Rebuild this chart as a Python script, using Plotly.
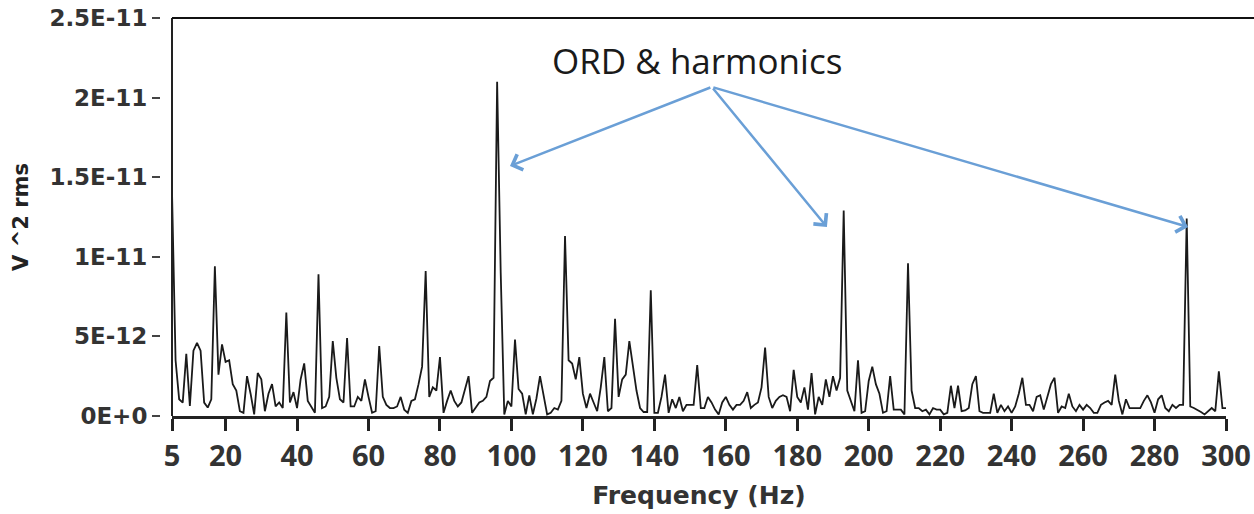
import plotly.graph_objects as go

# Frequency bins (Hz)
freq_hz = list(range(5, 301))

# Power values, in units of 1E-12 V^2 rms, one per frequency bin
power_e12 = [
    14.1, 3.5, 1.05, 0.84, 3.9, 0.63, 4.1, 4.6, 4.1, 0.84,        # 5-14
    0.53, 1.05, 9.4, 2.6, 4.5, 3.4, 3.5, 2.0, 1.6, 0.3,           # 15-24
    0.2, 2.5, 1.4, 0.1, 2.7, 2.3, 0.3, 1.4, 2.0, 0.6,             # 25-34
    0.85, 0.5, 6.5, 0.85, 1.5, 0.5, 2.3, 3.3, 0.95, 0.6,          # 35-44
    0.2, 8.9, 0.5, 0.6, 1.2, 4.7, 2.4, 1.05, 0.85, 4.9,           # 45-54
    0.6, 0.6, 1.2, 0.95, 2.3, 1.2, 0.2, 0.3, 4.4, 1.2,            # 55-64
    0.7, 0.5, 0.5, 0.6, 1.2, 0.4, 0.2, 0.95, 1.05, 2.0,           # 65-74
    3.1, 9.1, 1.2, 1.8, 1.6, 3.7, 0.2, 0.95, 1.6, 0.95,           # 75-84
    0.6, 0.85, 1.6, 2.5, 0.2, 0.5, 0.85, 0.95, 1.2, 2.2,          # 85-94
    2.4, 21.0, 9.0, 0.1, 0.95, 0.6, 4.8, 1.7, 1.4, 0.1,           # 95-104
    1.3, 0.1, 1.1, 2.5, 1.2, 0.1, 0.2, 0.5, 0.4, 0.95,            # 105-114
    11.3, 3.5, 3.3, 2.3, 3.7, 1.4, 0.5, 1.4, 0.85, 0.3,           # 115-124
    1.8, 3.7, 0.3, 0.5, 6.1, 1.2, 2.3, 2.6, 4.7, 3.1,             # 125-134
    1.6, 0.5, 0.25, 0.25, 7.9, 0.2, 0.2, 1.2, 2.6, 0.2,           # 135-144
    1.05, 0.5, 1.2, 0.3, 0.7, 0.7, 0.7, 3.2, 0.5, 0.5,            # 145-154
    1.2, 0.85, 0.4, 0.1, 0.85, 1.2, 0.7, 0.4, 0.7, 0.7,           # 155-164
    0.95, 1.5, 0.5, 0.7, 0.85, 1.8, 4.3, 1.2, 0.5, 0.95,          # 165-174
    1.2, 1.3, 1.2, 0.3, 2.9, 1.2, 0.85, 1.8, 0.4, 2.7,            # 175-184
    0.1, 1.2, 0.7, 2.3, 1.2, 2.5, 1.6, 2.4, 12.9, 1.6,            # 185-194
    0.95, 0.3, 3.5, 0.2, 0.3, 2.2, 3.1, 2.0, 1.4, 0.2,            # 195-204
    0.3, 2.5, 0.4, 0.4, 0.4, 0.1, 9.6, 1.6, 0.5, 0.5,             # 205-214
    0.3, 0.4, 0.1, 0.5, 0.4, 0.4, 0.1, 0.2, 1.9, 0.5,             # 215-224
    1.9, 0.3, 0.35, 0.5, 2.0, 2.5, 0.3, 0.2, 0.2, 0.2,            # 225-234
    1.4, 0.2, 0.7, 0.3, 0.6, 0.2, 0.6, 1.4, 2.4, 0.7,             # 235-244
    0.7, 0.3, 1.2, 1.3, 0.4, 1.2, 2.0, 2.4, 0.2, 0.6,             # 245-254
    0.5, 1.4, 0.6, 0.3, 0.7, 0.4, 0.7, 0.5, 0.2, 0.2,             # 255-264
    0.7, 0.85, 0.95, 0.7, 2.6, 0.95, 0.1, 1.05, 0.5, 0.5,         # 265-274
    0.5, 0.5, 0.95, 1.3, 0.85, 0.2, 1.05, 1.3, 0.5, 0.3,          # 275-284
    0.7, 0.5, 0.7, 0.7, 12.4, 0.6, 0.5, 0.4, 0.25, 0.1,           # 285-294
    0.3, 0.5, 0.3, 2.8, 0.5, 0.5,                                 # 295-300
]
power = [v * 1e-12 for v in power_e12]

x_ticks = [5, 20, 40, 60, 80, 100, 120, 140, 160, 180, 200, 220, 240, 260, 280, 300]
y_ticks = [0, 5e-12, 1e-11, 1.5e-11, 2e-11, 2.5e-11]
y_tick_labels = ["0E+0", "5E-12", "1E-11", "1.5E-11", "2E-11", "2.5E-11"]

annotation_text = "ORD & harmonics"
annotation_anchor = (151.9, 2.236e-11)
arrow_tail = (156.1, 2.067e-11)
arrow_heads = [(99.6, 1.57e-11), (188.3, 1.187e-11), (289.4, 1.187e-11)]

W, H = 1254, 514
ML, MR, MT, MB = 160, 28, 18, 98
plot_w = W - ML - MR
dom0 = 12 / plot_w

fig = go.Figure()
fig.add_trace(go.Scatter(
    x=freq_hz, y=power, mode="lines",
    line=dict(color="#1a1a1a", width=1.8),
    showlegend=False, hoverinfo="x+y", cliponaxis=False,
))

TXT = "#333333"
fig.update_layout(
    width=W, height=H,
    margin=dict(l=ML, r=MR, t=MT, b=MB, autoexpand=False),
    paper_bgcolor="white", plot_bgcolor="white",
    xaxis=dict(
        domain=[dom0, 1], range=[5, 300], automargin=False,
        tickmode="array", tickvals=x_ticks, ticktext=[str(t) for t in x_ticks],
        ticks="outside", ticklen=12, tickwidth=3, tickcolor="#222222",
        showline=True, linecolor="#222222", linewidth=2.5,
        showgrid=False, zeroline=False, ticklabeloverflow="allow",
        tickfont=dict(family="Open Sans", size=29, color=TXT, weight="bold"),
        title=dict(text="<b>Frequency (Hz)</b>", standoff=14,
                   font=dict(family="DejaVu Sans", size=25, color=TXT)),
    ),
    yaxis=dict(
        anchor="free", position=0, range=[0, 2.5e-11], automargin=False,
        tickmode="array", tickvals=y_ticks, ticktext=y_tick_labels,
        ticks="outside", ticklen=8, tickwidth=2, tickcolor="#444444",
        showline=False, showgrid=False, zeroline=False, ticklabeloverflow="allow",
        tickfont=dict(family="DejaVu Sans", size=23, color=TXT, weight="bold"),
        title=dict(text="<b>V ^2 rms</b>", standoff=14,
                   font=dict(family="DejaVu Sans", size=21, color="#222222")),
    ),
    shapes=[
        dict(type="line", xref="x domain", yref="y domain", x0=0, x1=0, y0=0, y1=1,
             line=dict(color="#222222", width=2)),
        dict(type="line", xref="paper", yref="y domain", x0=dom0, x1=(W - ML) / plot_w,
             y0=1, y1=1, line=dict(color="#111111", width=2)),
    ],
)

fig.add_annotation(
    x=annotation_anchor[0], y=annotation_anchor[1], xref="x", yref="y",
    text=annotation_text, showarrow=False, xanchor="center", yanchor="middle",
    font=dict(family="Open Sans", size=35, color="#1a1a1a"),
)
for hx, hy in arrow_heads:
    fig.add_annotation(
        x=hx, y=hy, xref="x", yref="y",
        ax=arrow_tail[0], ay=arrow_tail[1], axref="x", ayref="y",
        text="", showarrow=True, arrowhead=4, arrowsize=1.3, arrowwidth=2.5,
        arrowcolor="#6a9fd6", standoff=0,
    )

# remove the page's default body margin so the figure fills the window exactly
fig.write_html("out.html", config={"displayModeBar": False},
               post_script="document.body.style.margin='0';document.body.style.overflow='hidden';")
